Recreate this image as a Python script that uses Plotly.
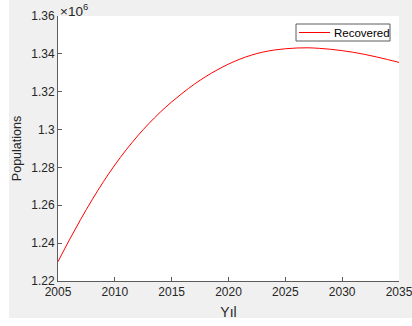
import plotly.graph_objects as go

# Recovered population by year (persons)
years = list(range(2005, 2036))
recovered = [
    1230200, 1241700, 1252600, 1262900, 1272500, 1281300, 1289300, 1296600,
    1303200, 1309200, 1314600, 1319500, 1324000, 1328000, 1331500, 1334600,
    1337200, 1339300, 1340900, 1342000, 1342700, 1343100, 1343200, 1342900,
    1342400, 1341700, 1340800, 1339700, 1338400, 1337000, 1335500,
]
series_name = "Recovered"
x_ticks = [2005, 2010, 2015, 2020, 2025, 2030, 2035]
y_ticks = [1.22, 1.24, 1.26, 1.28, 1.30, 1.32, 1.34, 1.36]
y_tick_text = ["1.22", "1.24", "1.26", "1.28", "1.3", "1.32", "1.34", "1.36"]
scale = 1e6

FONT = "Liberation Sans, Arial, Helvetica, sans-serif"
INK = "#262626"
AXIS = "#5c5c5c"
RED = "#ff0000"

fig = go.Figure()
fig.add_trace(go.Scatter(
    x=years,
    y=[v / scale for v in recovered],
    mode="lines",
    name=series_name,
    line=dict(color=RED, width=1, shape="spline", smoothing=1.0),
    showlegend=False,
))

W, H = 412, 326
L, R, T, B = 58, 13, 16, 45
pw, ph = W - L - R, H - T - B


def px_x(p):
    return (p - L) / pw


def px_y(p):
    return (H - B - p) / ph


# legend box geometry (pixels)
lg_x0, lg_x1, lg_y0, lg_y1 = 296, 390, 24, 41
lg_mid = (lg_y0 + lg_y1) / 2

fig.update_layout(
    width=W, height=H,
    margin=dict(l=L, r=R, t=T, b=B, autoexpand=False),
    paper_bgcolor="#f0f0f0",
    plot_bgcolor="#ffffff",
    font=dict(family=FONT, size=12, color=INK),
    showlegend=False,
    xaxis=dict(
        range=[2005, 2035], tickvals=x_ticks,
        ticks="inside", ticklen=4, tickcolor=AXIS, tickwidth=1,
        showline=True, linecolor=AXIS, linewidth=1,
        showgrid=False, zeroline=False, mirror=False,
        automargin=False, ticklabeloverflow="allow",
        tickfont=dict(size=12, color=INK),
        title=dict(text="Yıl", font=dict(size=14, color=INK), standoff=8),
    ),
    yaxis=dict(
        range=[1.22, 1.36], tickvals=y_ticks, ticktext=y_tick_text,
        ticks="inside", ticklen=4, tickcolor=AXIS, tickwidth=1,
        showline=True, linecolor=AXIS, linewidth=1,
        showgrid=False, zeroline=False, mirror=False,
        automargin=False, ticklabeloverflow="allow",
        tickfont=dict(size=12, color=INK),
        title=dict(text="Populations", font=dict(size=12.5, color=INK), standoff=6),
    ),
    shapes=[
        # white margins around the figure canvas
        dict(type="rect", xref="paper", yref="paper", layer="below",
             x0=px_x(-2), x1=px_x(W + 2), y0=px_y(318), y1=px_y(H + 2),
             fillcolor="#ffffff", line=dict(width=0)),
        dict(type="rect", xref="paper", yref="paper", layer="below",
             x0=px_x(-2), x1=px_x(9), y0=px_y(H + 2), y1=px_y(-2),
             fillcolor="#ffffff", line=dict(width=0)),
        # legend box and line sample
        dict(type="rect", xref="paper", yref="paper", layer="above",
             x0=px_x(lg_x0), x1=px_x(lg_x1), y0=px_y(lg_y1), y1=px_y(lg_y0),
             fillcolor="#ffffff", line=dict(color=AXIS, width=1)),
        dict(type="line", xref="paper", yref="paper", layer="above",
             x0=px_x(lg_x0 + 3), x1=px_x(lg_x0 + 34), y0=px_y(lg_mid), y1=px_y(lg_mid),
             line=dict(color=RED, width=1)),
    ],
    annotations=[
        dict(text="×10<sup>6</sup>", xref="paper", yref="paper",
             x=px_x(58), y=px_y(-1), xanchor="left", yanchor="top",
             showarrow=False, font=dict(size=13.5, color=INK)),
        dict(text=series_name, xref="paper", yref="paper",
             x=px_x(lg_x0 + 36), y=px_y(lg_mid), xanchor="left", yanchor="middle",
             showarrow=False, font=dict(size=11.5, color="#000000")),
    ],
)

fig.write_html("out.html")
